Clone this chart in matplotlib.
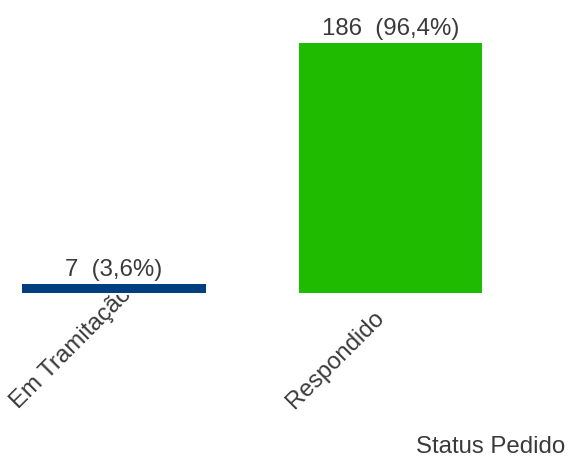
import matplotlib
matplotlib.use("Agg")
import matplotlib.pyplot as plt
import matplotlib.transforms as mtransforms

# Request counts by status
categories = ["Em Tramitação", "Respondido"]
counts = [7, 186]
percent_labels = ["3,6%", "96,4%"]
bar_colors = ["#003f7f", "#1fbb00"]

plt.rcParams["font.family"] = ["Liberation Sans", "DejaVu Sans"]
text_color = "#3a3a3a"
font_size = 17.3

W, H, DPI = 568, 457, 100
fig = plt.figure(figsize=(W / DPI, H / DPI), dpi=DPI)

base_px = 293          # baseline of the bars, pixels from the top
ax = fig.add_axes([0, (H - base_px) / H, 1, base_px / H])

bar_w = 0.665
positions = list(range(len(categories)))
ax.bar(positions, counts, width=bar_w, color=bar_colors, edgecolor="none")

# horizontal scale: ~276.5 px between category centres, first bar left edge at 22 px
unit = 276.5
x_left = -bar_w / 2 - 22 / unit
ax.set_xlim(x_left, x_left + W / unit)
ax.set_ylim(0, counts[1] * base_px / 250)
ax.axis("off")

# value labels above the bars
for x, c, p in zip(positions, counts, percent_labels):
    ax.annotate(f"{c}  ({p})", xy=(x, c), xytext=(0, 8), textcoords="offset pixels",
                ha="center", va="baseline", fontsize=font_size, color=text_color)

# rotated category labels, clipped just below the bar baseline
clip = mtransforms.Bbox.from_extents(0, 0, W, H - 295)
for x, name in zip(positions, categories):
    tr = mtransforms.offset_copy(ax.transData, fig=fig, x=-4, y=-116, units="dots")
    t = ax.text(x - bar_w / 2, 0, name, transform=tr, rotation=45,
                rotation_mode="anchor", ha="left", va="baseline",
                fontsize=font_size, color=text_color)
    t.set_clip_box(clip)
    t.set_clip_on(True)

fig.text(565 / W, (H - 453) / H, "Status Pedido", ha="right", va="baseline",
         fontsize=font_size, color=text_color)

fig.savefig("out.png", dpi=DPI)
